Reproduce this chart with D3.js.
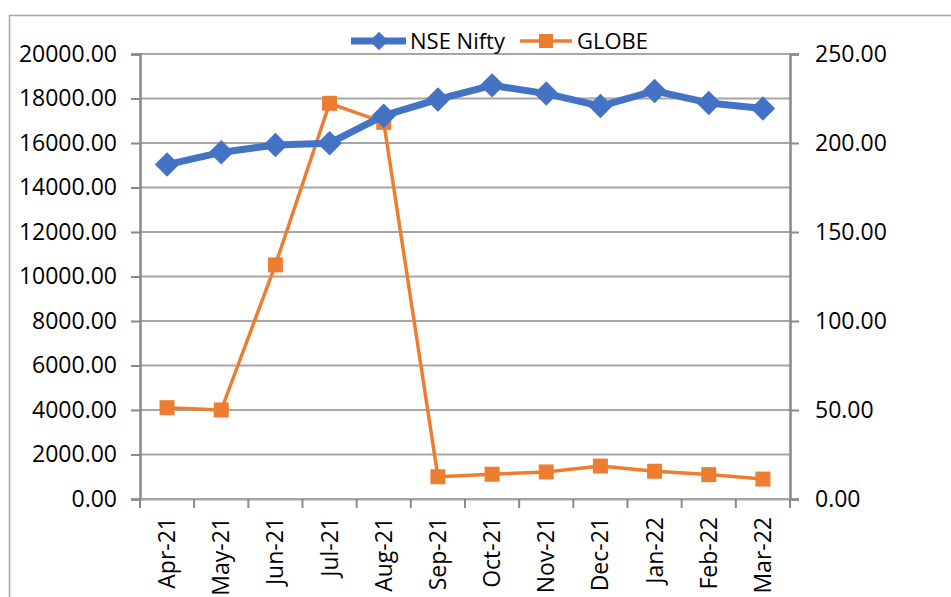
<!DOCTYPE html>
<html>
<head>
<meta charset="utf-8">
<script src="https://cdn.jsdelivr.net/npm/d3@7"></script>
<style>
  body { margin: 0; background: #fff; }
  text { font-family: "Open Sans", sans-serif; fill: #000; }
</style>
</head>
<body>
<div id="viz"></div>
<script>
var months = ["Apr-21", "May-21", "Jun-21", "Jul-21", "Aug-21", "Sep-21",
              "Oct-21", "Nov-21", "Dec-21", "Jan-22", "Feb-22", "Mar-22"];
var nifty = [15030, 15580, 15910, 15990, 17230, 17960,
             18590, 18220, 17660, 18340, 17800, 17550];
var globe = [51.3, 50.0, 131.5, 222.3, 211.6, 12.5,
             13.9, 15.2, 18.5, 15.6, 13.7, 11.2];
var leftTicks = [0, 2000, 4000, 6000, 8000, 10000, 12000, 14000, 16000, 18000, 20000];
var rightTicks = [0, 50, 100, 150, 200, 250];

var W = 951, H = 597;
var margin = {top: 54, right: 161, bottom: 98, left: 140},
    width = W - margin.left - margin.right,
    height = H - margin.top - margin.bottom;

var blue = "#4472c4", orange = "#ed7d31", grid = "#a6a6a6", axisCol = "#898989";

var root = d3.select("#viz")
    .append("svg")
    .attr("width", W)
    .attr("height", H);

// chart border
root.append("rect")
    .attr("x", 9.5).attr("y", 15.5)
    .attr("width", W + 10).attr("height", H + 10)
    .attr("fill", "none")
    .attr("stroke", "#a6a6a6")
    .attr("stroke-width", 1.5);

var svg = root.append("g")
    .attr("transform", "translate(" + margin.left + "," + margin.top + ")");

var x = d3.scaleBand().domain(months).range([0, width]);
var yL = d3.scaleLinear().domain([0, 20000]).range([height, 0]);
var yR = d3.scaleLinear().domain([0, 250]).range([height, 0]);

// gridlines
svg.append("g")
    .selectAll("line")
    .data(leftTicks)
    .enter().append("line")
    .attr("x1", 0).attr("x2", width)
    .attr("y1", d => yL(d)).attr("y2", d => yL(d))
    .attr("stroke", grid)
    .attr("stroke-width", 2);

// left axis
var gl = svg.append("g")
    .call(d3.axisLeft(yL).tickValues(leftTicks).tickSize(9).tickPadding(14)
        .tickFormat(d3.format(".2f")));
gl.selectAll("text").style("font-size", "23px");

// right axis
var gr = svg.append("g")
    .attr("transform", "translate(" + width + ",0)")
    .call(d3.axisRight(yR).tickValues(rightTicks).tickSize(9).tickPadding(16)
        .tickFormat(d3.format(".2f")));
gr.selectAll("text").style("font-size", "23px");

// bottom axis, ticks on category boundaries
var gb = svg.append("g")
    .attr("transform", "translate(0," + height + ")")
    .call(d3.axisBottom(x).tickSize(0).tickPadding(18));
gb.selectAll("text")
    .style("font-size", "23px")
    .attr("text-anchor", "end")
    .attr("dy", "0.35em")
    .attr("transform", "rotate(-90) translate(-18,-18)")
    .attr("x", 0).attr("y", 0);
gb.selectAll(".tick").each(function () {
    d3.select(this).select("text")
        .attr("transform", "rotate(-90)")
        .attr("x", -18).attr("y", 0);
});

svg.append("g")
    .attr("transform", "translate(0," + height + ")")
    .selectAll("line")
    .data(d3.range(months.length + 1))
    .enter().append("line")
    .attr("x1", i => i * x.bandwidth()).attr("x2", i => i * x.bandwidth())
    .attr("y1", 0).attr("y2", 9)
    .attr("stroke", axisCol).attr("stroke-width", 2);

[gl, gr, gb].forEach(function (g) {
    g.select(".domain").attr("stroke", axisCol).attr("stroke-width", 2.5);
    g.selectAll(".tick line").attr("stroke", axisCol).attr("stroke-width", 2);
});
gb.select(".domain").attr("stroke", grid).attr("stroke-width", 2);

var cx = d => x(d) + x.bandwidth() / 2;

// GLOBE line
svg.append("path")
    .datum(globe)
    .attr("fill", "none")
    .attr("stroke", orange)
    .attr("stroke-width", 3.5)
    .attr("stroke-linejoin", "round")
    .attr("d", d3.line()
        .x((d, i) => cx(months[i]))
        .y(d => yR(d)));

svg.append("g")
    .selectAll("rect")
    .data(globe)
    .enter().append("rect")
    .attr("x", (d, i) => cx(months[i]) - 7.5)
    .attr("y", d => yR(d) - 7.5)
    .attr("width", 15).attr("height", 15)
    .attr("fill", orange);

// NSE Nifty line
svg.append("path")
    .datum(nifty)
    .attr("fill", "none")
    .attr("stroke", blue)
    .attr("stroke-width", 7)
    .attr("stroke-linejoin", "round")
    .attr("d", d3.line()
        .x((d, i) => cx(months[i]))
        .y(d => yL(d)));

var diamond = d3.symbol().type(d3.symbolSquare).size(300);
svg.append("g")
    .selectAll("path")
    .data(nifty)
    .enter().append("path")
    .attr("d", diamond)
    .attr("transform", (d, i) => "translate(" + cx(months[i]) + "," + yL(d) + ") rotate(45)")
    .attr("fill", blue);

// legend
var leg = root.append("g").attr("transform", "translate(0,41)");
leg.append("line")
    .attr("x1", 351).attr("x2", 406).attr("y1", 0).attr("y2", 0)
    .attr("stroke", blue).attr("stroke-width", 7);
leg.append("path")
    .attr("d", d3.symbol().type(d3.symbolSquare).size(170))
    .attr("transform", "translate(379,0) rotate(45)")
    .attr("fill", blue);
leg.append("text")
    .attr("x", 410).attr("y", 0).attr("dy", "0.35em")
    .style("font-size", "22px")
    .text("NSE Nifty");
leg.append("line")
    .attr("x1", 520).attr("x2", 572).attr("y1", 0).attr("y2", 0)
    .attr("stroke", orange).attr("stroke-width", 3.5);
leg.append("rect")
    .attr("x", 539).attr("y", -7).attr("width", 14).attr("height", 14)
    .attr("fill", orange);
leg.append("text")
    .attr("x", 577).attr("y", 0).attr("dy", "0.35em")
    .style("font-size", "22px")
    .text("GLOBE");
</script>
</body>
</html>
